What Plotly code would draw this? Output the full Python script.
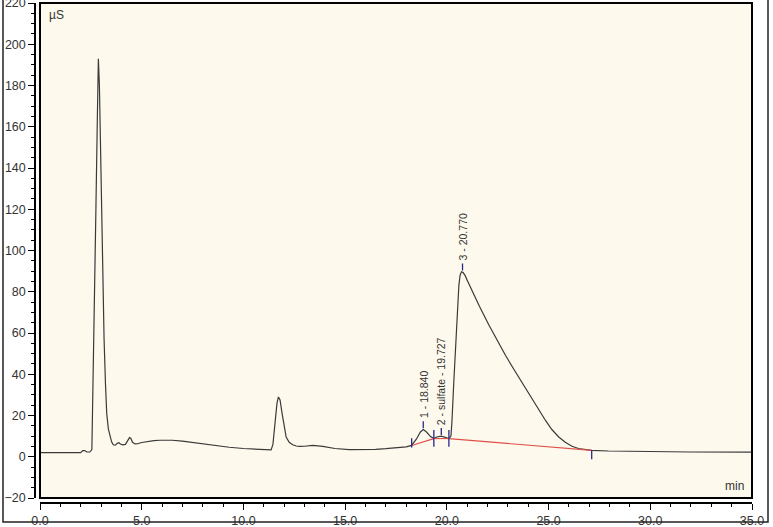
import plotly.graph_objects as go

# ---- data ----
time_min = [0, 1, 2.0, 2.1, 2.2, 2.3, 2.45, 2.55, 2.62, 2.7, 2.75, 2.82, 2.87, 2.92, 2.97,
            3.03, 3.1, 3.15, 3.22, 3.28, 3.36, 3.44, 3.52, 3.6, 3.7, 3.8, 3.88, 3.95, 4.06,
            4.2, 4.3, 4.4, 4.46, 4.55, 4.67, 4.8, 5.0, 5.24, 5.6, 5.9, 6.5, 7.0, 7.7, 8.5,
            9.3, 10.0, 10.7, 11.36, 11.45, 11.55, 11.65, 11.72, 11.8, 11.9, 12.0, 12.1,
            12.25, 12.42, 12.6, 12.75, 13.0, 13.4, 13.9, 14.5, 15.2, 15.9, 16.5, 17.0, 17.6,
            18.0, 18.27, 18.5, 18.7, 18.84, 19.0, 19.2, 19.36, 19.5, 19.73, 19.9, 20.1,
            20.2, 20.25, 20.34, 20.42, 20.5, 20.59, 20.65, 20.72, 20.8, 20.9, 21.0, 21.24,
            21.6, 22.06, 22.5, 22.88, 23.3, 23.69, 24.1, 24.5, 24.85, 25.16, 25.5, 25.82,
            26.15, 26.47, 26.8, 27.12, 27.94, 29, 30, 32, 35]
signal_uS = [2.0, 2.0, 2.0, 3.0, 3.0, 2.3, 2.3, 3.5, 40, 95, 121, 165, 193, 180, 150,
             121, 82, 57, 35, 21, 13.5, 9.8, 7.2, 5.8, 5.6, 6.5, 6.8, 6.2, 5.8,
             6.0, 7.5, 9.3, 9.0, 7.0, 6.2, 6.3, 6.9, 7.4, 7.8, 8.0, 8.0, 7.6, 6.6, 5.6,
             4.6, 4.0, 3.6, 3.3, 6, 16, 26, 29, 27.5, 21, 14, 9.5,
             7, 5.8, 5.2, 5.0, 5.1, 5.5, 5.0, 4.0, 3.5, 3.4, 3.6, 3.9, 4.3,
             4.8, 5.5, 8.5, 12.0, 13.2, 12.0, 9.8, 8.8, 9.6, 10.0, 9.3, 8.8,
             10, 17, 36, 52, 68, 83, 88, 89.7, 89.3, 87.8, 85.6, 80.5,
             73, 64, 56, 49.2, 42.3, 36, 29.3, 22.9, 17.6, 13.2, 9.6, 7.0,
             5.1, 4.0, 3.4, 3.1, 2.8, 2.6, 2.4, 2.3, 2.2]

baseline_t = [18.27, 19.36, None, 19.36, 20.1, None, 20.1, 27.12]
baseline_v = [5.5, 8.8, None, 8.8, 8.8, None, 8.8, 3.1]

delim_t = [18.27, 19.36, 20.1, 27.12]
delim_lo = [4.5, 4.9, 4.9, -1.2]
delim_hi = [9.0, 13.0, 13.0, 3.3]

peak_t = [18.84, 19.727, 20.77]
peak_v = [13.2, 10.0, 89.7]
peak_labels = ["1 - 18.840", "2 - sulfate - 19.727", "3 - 20.770"]

x_ticks = [0, 5, 10, 15, 20, 25, 30, 35]
y_ticks = [-20, 0, 20, 40, 60, 80, 100, 120, 140, 160, 180, 200, 220]

W, H = 773, 527
ML, MR, MT, MB = 35, 21, 3, 24
PW, PH = W - ML - MR, H - MT - MB
INK = "#333333"
FONT = "Liberation Sans, Arial, sans-serif"

fig = go.Figure()
fig.add_trace(go.Scatter(x=time_min, y=signal_uS, mode="lines",
                         line=dict(color="#3a3a3a", width=1.2), hoverinfo="skip"))
fig.add_trace(go.Scatter(x=baseline_t, y=baseline_v, mode="lines",
                         line=dict(color="#e0504a", width=1.1), hoverinfo="skip"))

# boundary delimiters
dx, dy = [], []
for t, lo, hi in zip(delim_t, delim_lo, delim_hi):
    dx += [t, t, None]
    dy += [lo, hi, None]
# apex markers
for t, v in zip(peak_t, peak_v):
    dx += [t, t, None]
    dy += [v + 0.6, v + 4.0, None]
fig.add_trace(go.Scatter(x=dx, y=dy, mode="lines",
                         line=dict(color="#28288c", width=1.3), hoverinfo="skip"))

for t, v, lab in zip(peak_t, peak_v, peak_labels):
    fig.add_annotation(x=t, y=v + 4.5, text=lab, textangle=-90, showarrow=False,
                       xanchor="center", yanchor="bottom",
                       font=dict(family=FONT, size=10.5, color=INK))

fig.add_annotation(xref="paper", yref="paper", x=(47 - ML) / PW, y=(MT + PH - 15) / PH,
                   text="µS", showarrow=False, xanchor="left", yanchor="middle",
                   font=dict(family=FONT, size=12, color=INK))
fig.add_annotation(xref="paper", yref="paper", x=(746 - ML) / PW, y=(MT + PH - 486) / PH,
                   text="min", showarrow=False, xanchor="right", yanchor="middle",
                   font=dict(family=FONT, size=12, color=INK))

# plot frame
fig.add_shape(type="rect", xref="x domain", yref="y domain", x0=0, x1=1, y0=0, y1=1,
              line=dict(color="black", width=2), layer="above")
# outer image border
fig.add_shape(type="rect", xref="paper", yref="paper",
              x0=(3 - ML) / PW, x1=(768 - ML) / PW,
              y0=(MT + PH - 522) / PH, y1=(MT + PH + 2) / PH,
              line=dict(color="#222222", width=1.5), layer="above")

fig.update_layout(
    width=W, height=H,
    margin=dict(l=ML, r=MR, t=MT, b=MB, autoexpand=False),
    paper_bgcolor="white", plot_bgcolor="#FDF9EC",
    showlegend=False,
    xaxis=dict(domain=[5 / PW, 1], range=[0, 35], anchor="free", position=0,
               showgrid=False, zeroline=False, showline=True, linecolor="black", linewidth=1.5,
               ticks="outside", ticklen=6, tickwidth=1, tickcolor="black",
               tickvals=x_ticks, tickformat=".1f", ticklabeloverflow="allow",
               tickfont=dict(family=FONT, size=12.5, color=INK),
               minor=dict(dtick=1, ticks="outside", ticklen=3, tickcolor="black", showgrid=False),
               automargin=False, fixedrange=True),
    yaxis=dict(domain=[5 / PH, 1], range=[-20, 220], anchor="free", position=0,
               showgrid=False, zeroline=False, showline=True, linecolor="black", linewidth=1.5,
               ticks="outside", ticklen=6, tickwidth=1, tickcolor="black",
               tickvals=y_ticks, ticklabeloverflow="allow",
               tickfont=dict(family=FONT, size=12.5, color=INK),
               minor=dict(dtick=5, ticks="outside", ticklen=3, tickcolor="black", showgrid=False),
               automargin=False, fixedrange=True),
)

fig.write_html("out.html", config={"displayModeBar": False},
               post_script="document.body.style.margin='0';document.body.style.overflow='hidden';")
